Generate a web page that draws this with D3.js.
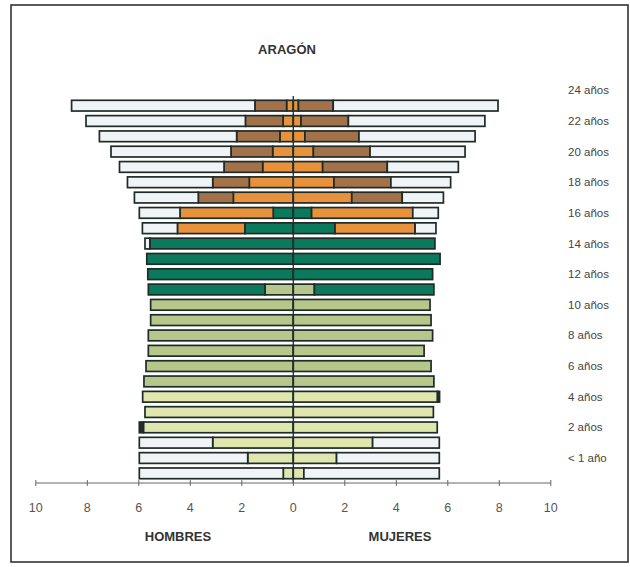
<html>
<head>
<style>
body { margin: 0; background: #fff; }
text { font-family: Arial, "Liberation Sans", sans-serif; }
</style>
</head>
<body>
<svg></svg>
<script src="https://cdn.jsdelivr.net/npm/d3@7/dist/d3.min.js"></script>
<script>
// ages 0..24, bottom to top
var ages = d3.range(0, 25);
var ageLabels = ["< 1 año", "2 años", "4 años", "6 años", "8 años", "10 años", "12 años",
                 "14 años", "16 años", "18 años", "20 años", "22 años", "24 años"];
var labelAges = [0, 2, 4, 6, 8, 10, 12, 14, 16, 18, 20, 22, 24];
var ticks = [-10, -8, -6, -4, -2, 0, 2, 4, 6, 8, 10];

// series, from the centre outward
var series = ["infantil", "primaria", "eso", "bach", "univ", "otros", "fuera"];
var colors = ["#dfe6ae", "#b7c68a", "#0b7a5c", "#e8923b", "#a3724a", "#2b2b2b", "#f1f4f6"];

// HOMBRES (%)
var hInfantil = [0.39,1.77,3.13,5.82,5.76,5.85,0,0,0,0,0,0,0,0,0,0,0,0,0,0,0,0,0,0,0];
var hPrimaria = [0,0,0,0,0,0,5.80,5.72,5.63,5.63,5.54,5.54,1.10,0,0,0,0,0,0,0,0,0,0,0,0];
var hEso      = [0,0,0,0,0,0,0,0,0,0,0,0,4.53,5.65,5.69,5.57,1.88,0.78,0,0,0,0,0,0,0];
var hBach     = [0,0,0,0,0,0,0,0,0,0,0,0,0,0,0,0,2.62,3.62,2.33,1.71,1.19,0.80,0.52,0.40,0.26];
var hUniv     = [0,0,0,0,0,0,0,0,0,0,0,0,0,0,0,0,0,0,1.36,1.42,1.50,1.62,1.68,1.46,1.23];
var hOtros    = [0,0,0,0.16,0,0,0,0,0,0,0,0,0,0,0,0,0,0,0,0,0,0,0,0,0];
var hFuera    = [5.59,4.21,2.85,0,0,0,0,0,0,0,0,0,0,0,0,0.19,1.36,1.58,2.48,3.31,4.06,4.66,5.33,6.19,7.12];

// MUJERES (%)
var mInfantil = [0.41,1.68,3.08,5.59,5.44,5.60,0,0,0,0,0,0,0,0,0,0,0,0,0,0,0,0,0,0,0];
var mPrimaria = [0,0,0,0,0,0,5.46,5.35,5.08,5.41,5.35,5.31,0.82,0,0,0,0,0,0,0,0,0,0,0,0];
var mEso      = [0,0,0,0,0,0,0,0,0,0,0,0,4.64,5.41,5.70,5.50,1.62,0.71,0,0,0,0,0,0,0];
var mBach     = [0,0,0,0,0,0,0,0,0,0,0,0,0,0,0,0,3.11,3.93,2.27,1.58,1.14,0.78,0.45,0.30,0.20];
var mUniv     = [0,0,0,0,0,0,0,0,0,0,0,0,0,0,0,0,0,0,1.96,2.21,2.51,2.20,2.10,1.84,1.35];
var mOtros    = [0,0,0,0,0,0.08,0,0,0,0,0,0,0,0,0,0,0,0,0,0,0,0,0,0,0];
var mFuera    = [5.26,3.99,2.59,0,0,0,0,0,0,0,0,0,0,0,0,0,0.81,0.99,1.60,2.32,2.76,3.69,4.51,5.30,6.40];

var hombres = [hInfantil, hPrimaria, hEso, hBach, hUniv, hOtros, hFuera];
var mujeres = [mInfantil, mPrimaria, mEso, mBach, mUniv, mOtros, mFuera];

var width = 630, height = 567;

var svg = d3.select("svg")
    .attr("width", width)
    .attr("height", height);

svg.append("rect")
    .attr("x", 11).attr("y", 5)
    .attr("width", 617).attr("height", 557)
    .attr("fill", "#fff")
    .attr("stroke", "#333")
    .attr("stroke-width", 1.6);

var x = d3.scaleLinear().domain([-10, 10]).range([35.8, 550.8]);

var y = d3.scaleBand()
    .domain(ages.slice().reverse())
    .range([98, 481])
    .paddingInner(0.3)
    .paddingOuter(0.15);

function segments(side, sign) {
  var out = [];
  ages.forEach(function(a) {
    var acc = 0;
    series.forEach(function(s, k) {
      var v = side[k][a];
      if (v > 0) {
        out.push({age: a, k: k, v0: acc * sign, v1: (acc + v) * sign});
        acc += v;
      }
    });
  });
  return out;
}

var bars = svg.append("g");

function drawSide(data) {
  bars.selectAll(null)
    .data(data)
    .enter().append("rect")
      .attr("x", function(d) { return x(Math.min(d.v0, d.v1)); })
      .attr("width", function(d) { return Math.abs(x(d.v1) - x(d.v0)); })
      .attr("y", function(d) { return y(d.age); })
      .attr("height", y.bandwidth())
      .attr("fill", function(d) { return colors[d.k]; })
      .attr("stroke", "#1f2b28")
      .attr("stroke-width", 1.7);
}

drawSide(segments(hombres, -1));
drawSide(segments(mujeres, 1));

// centre line
svg.append("line")
    .attr("x1", x(0)).attr("x2", x(0))
    .attr("y1", 96).attr("y2", 483)
    .attr("stroke", "#24302d")
    .attr("stroke-width", 1.3);

// x axis
var axisY = 483;
var axis = svg.append("g").attr("transform", "translate(0," + axisY + ")");
axis.append("line")
    .attr("x1", x(-10)).attr("x2", x(10))
    .attr("stroke", "#666").attr("stroke-width", 1);
axis.selectAll(".tk")
    .data(ticks)
  .enter().append("line")
    .attr("x1", function(d) { return x(d); })
    .attr("x2", function(d) { return x(d); })
    .attr("y1", -3).attr("y2", 3)
    .attr("stroke", "#666");
axis.selectAll(".tl")
    .data(ticks)
  .enter().append("text")
    .attr("x", function(d) { return x(d); })
    .attr("y", 29)
    .attr("text-anchor", "middle")
    .attr("font-size", 12.5)
    .attr("fill", "#555")
    .text(function(d) { return Math.abs(d); });

// age labels (sit one row above their bar, as in the original)
svg.selectAll(".age")
    .data(labelAges)
  .enter().append("text")
    .attr("x", 568)
    .attr("y", function(a) { return y(a) + y.bandwidth() / 2 - y.step() + 4; })
    .attr("font-size", 11.5)
    .attr("fill", "#444")
    .text(function(a, i) { return ageLabels[i]; });

svg.append("text")
    .attr("x", 287).attr("y", 54)
    .attr("text-anchor", "middle")
    .attr("font-size", 13).attr("font-weight", "bold")
    .attr("fill", "#333")
    .text("ARAGÓN");

svg.append("text")
    .attr("x", 178).attr("y", 541)
    .attr("text-anchor", "middle")
    .attr("font-size", 13).attr("font-weight", "bold")
    .attr("fill", "#333")
    .text("HOMBRES");

svg.append("text")
    .attr("x", 400).attr("y", 541)
    .attr("text-anchor", "middle")
    .attr("font-size", 13).attr("font-weight", "bold")
    .attr("fill", "#333")
    .text("MUJERES");
</script>
</body>
</html>
